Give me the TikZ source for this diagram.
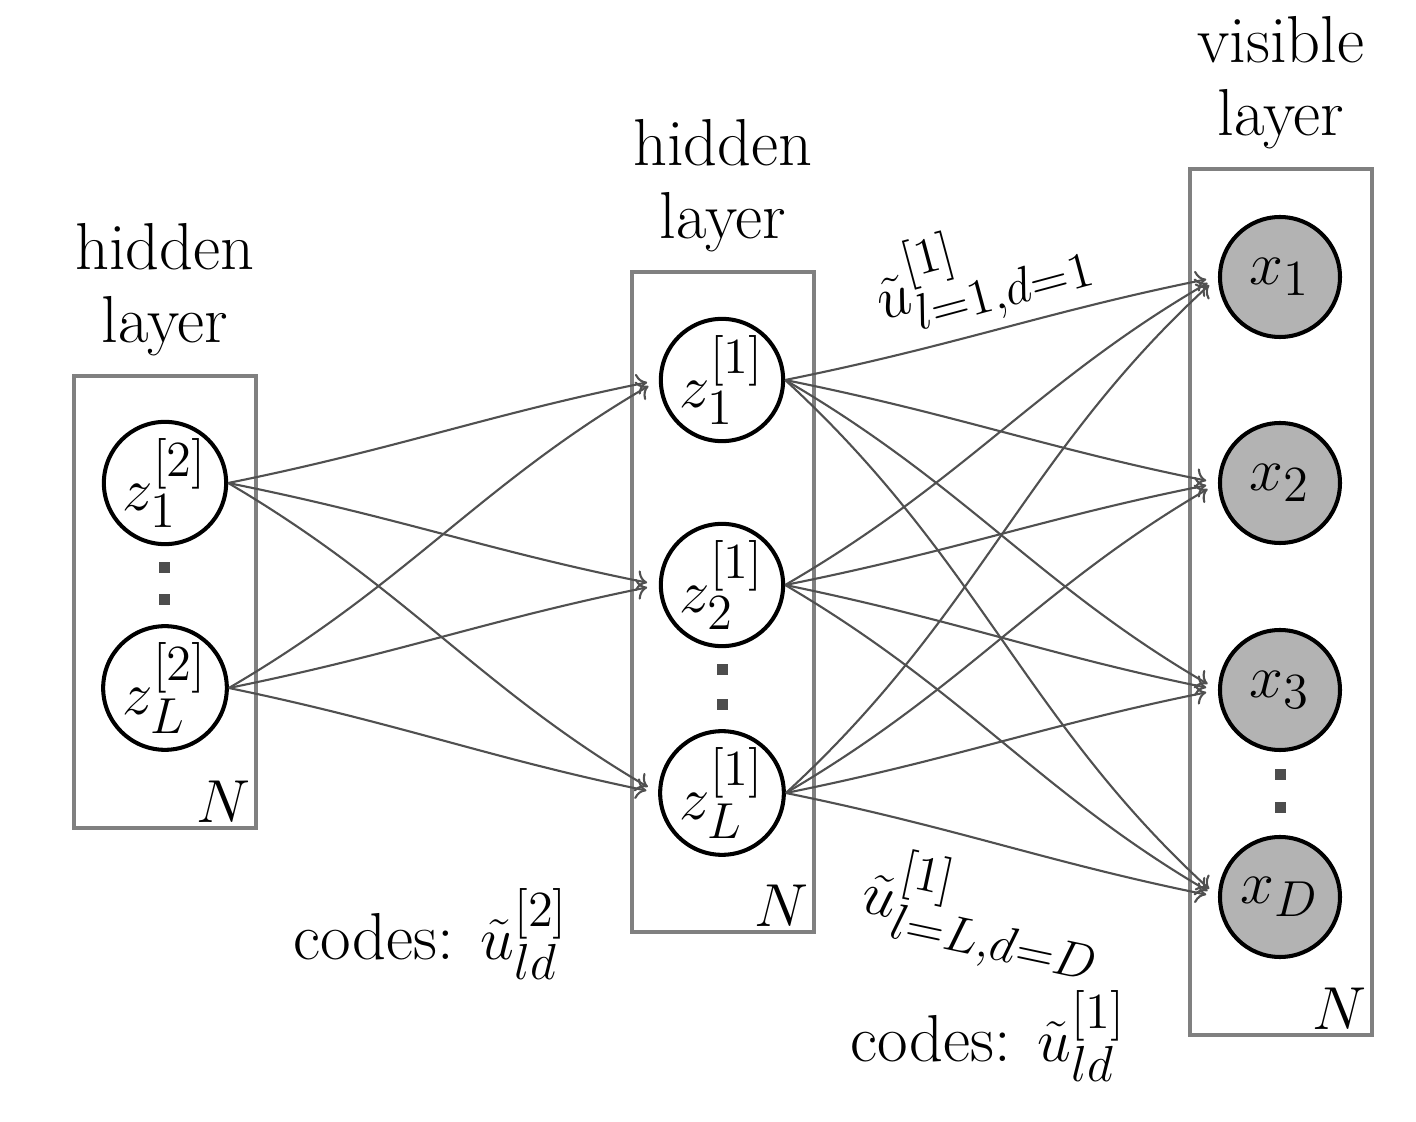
\documentclass[tikz,border=0pt]{standalone}
\usetikzlibrary{arrows.meta,positioning,calc}
\definecolor{dgmEdge}{HTML}{505050}
\definecolor{dgmPlate}{HTML}{808080}
\definecolor{dgmShade}{HTML}{B3B3B3}
\definecolor{dgmDot}{HTML}{4D4D4D}
\newcommand{\dgmsize}{\fontsize{18.9pt}{20.8pt}\selectfont}
\tikzset{
  dgm plate/.style={draw=dgmPlate, line width=1.1pt, minimum width=1.825cm, inner sep=0pt},
  dgm unit/.style={circle, draw=black, line width=1.15pt, minimum size=1.2cm, inner sep=0pt, font=\dgmsize},
  dgm obs/.style={dgm unit, fill=dgmShade},
  dgm dot/.style={rectangle, fill=dgmDot, minimum size=1.1mm, inner sep=0pt},
  dgm link/.style={draw=dgmEdge, line width=0.6pt, -{To[length=3pt,width=6pt]}, shorten >=3.4pt},
  dgm title/.style={align=center, font=\dgmsize},
  dgm text/.style={font=\dgmsize},
}

\begin{document}
\begin{tikzpicture}
  \useasboundingbox (0,0) rectangle (14.16,11.22);

  % Plates
  \node[dgm plate, minimum height=4.525cm] (plA) at (1.65,5.20) {};
  \node[dgm plate, minimum height=6.605cm] (plB) at (7.23,5.20) {};
  \node[dgm plate, minimum height=8.665cm] (plC) at (12.81,5.20) {};

  % Layer titles and plate counts
  \node[dgm title, above=0.5mm of plA] (tA) {hidden\\layer};
  \node[dgm title, above=0.5mm of plB] (tB) {hidden\\layer};
  \node[dgm title, above=0.5mm of plC] (tC) {visible\\layer};
  \foreach \p in {plA,plB,plC} {
    \node[dgm text, anchor=south east, inner sep=2pt] (n\p) at (\p.south east) {$N$};
  }

  % Second hidden layer
  \node[dgm unit] (zA1) at (1.65,6.39) {$z^{[2]}_1$};
  \node[dgm unit] (zAL) at (1.65,4.34) {$z^{[2]}_L$};
  \node[dgm dot] (dA1) at (1.65,5.54) {};
  \node[dgm dot] (dA2) at (1.65,5.22) {};

  % First hidden layer
  \node[dgm unit] (zB1) at (7.22,7.42) {$z^{[1]}_1$};
  \node[dgm unit] (zB2) at (7.22,5.37) {$z^{[1]}_2$};
  \node[dgm unit] (zBL) at (7.22,3.29) {$z^{[1]}_L$};
  \node[dgm dot] (dB1) at (7.22,4.52) {};
  \node[dgm dot] (dB2) at (7.22,4.17) {};

  % Visible layer
  \node[dgm obs] (x1) at (12.80,8.45) {$x_1$};
  \node[dgm obs] (x2) at (12.80,6.39) {$x_2$};
  \node[dgm obs] (x3) at (12.80,4.32) {$x_3$};
  \node[dgm obs] (xD) at (12.80,2.25) {$x_D$};
  \node[dgm dot] (dC1) at (12.80,3.47) {};
  \node[dgm dot] (dC2) at (12.80,3.14) {};

  % Connections, slightly S-shaped
  \foreach \s in {zA1,zAL} {
    \foreach \t in {zB1,zB2,zBL} {
      \draw[dgm link] (\s.east) let \p1=($(\t.west)-(\s.east)$), \n1={0.85*atan2(\y1,\x1)}, \n2={180+\n1} in
        to[out=\n1, in=\n2] (\t.west);
    }
  }
  \foreach \s in {zB1,zB2,zBL} {
    \foreach \t in {x1,x2,x3,xD} {
      \draw[dgm link] (\s.east) let \p1=($(\t.west)-(\s.east)$), \n1={0.85*atan2(\y1,\x1)}, \n2={180+\n1} in
        to[out=\n1, in=\n2] (\t.west);
    }
  }

  % Code labels
  \node[dgm text, rotate=15] (uTop) at (9.82,8.50) {$\tilde{u}^{[1]}_{l=1,d=1}$};
  \node[dgm text, rotate=-12] (uBot) at (9.83,2.06) {$\tilde{u}^{[1]}_{l=L,d=D}$};
  \node[dgm text, anchor=base] (cA) at (4.31,1.62) {codes: $\tilde{u}^{[2]}_{ld}$};
  \node[dgm text, anchor=base] (cB) at (9.88,0.60) {codes: $\tilde{u}^{[1]}_{ld}$};
\end{tikzpicture}
\end{document}
